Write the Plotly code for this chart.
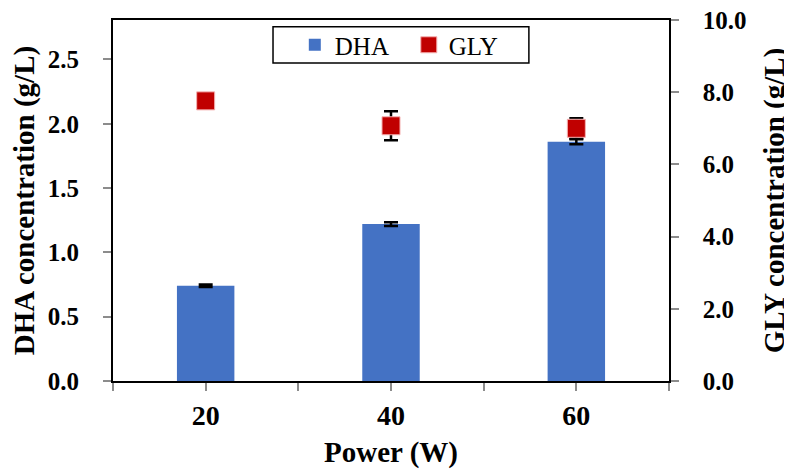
import plotly.graph_objects as go

power = ["20", "40", "60"]
dha = [0.74, 1.22, 1.86]
dha_err = [0.01, 0.015, 0.02]
gly = [7.76, 7.07, 7.0]
gly_err = [0.0, 0.4, 0.28]
xpos = [0, 1, 2]
x_tickvals = [-0.5, 0, 0.5, 1, 1.5, 2, 2.5]
x_ticktext = ["", "20", "", "40", "", "60", ""]
y1_ticks = [0.0, 0.5, 1.0, 1.5, 2.0, 2.5]
y2_ticks = [0.0, 2.0, 4.0, 6.0, 8.0, 10.0]

FONT = "Liberation Serif, Times New Roman, serif"
PAD = "\u00a0\u00a0\u00a0"

fig = go.Figure()
fig.add_trace(go.Bar(
    x=xpos, y=dha, name="DHA", width=0.31,
    marker=dict(color="#4472C4", line=dict(width=0)),
    error_y=dict(type="data", array=dha_err, color="black", thickness=2.5, width=7),
    yaxis="y",
))
fig.add_trace(go.Scatter(
    x=xpos, y=gly, name="GLY", mode="markers",
    marker=dict(symbol="square", size=18, color="#C00000",
                line=dict(color="#F4B0B0", width=1)),
    error_y=dict(type="data", array=gly_err, color="black", thickness=2.5, width=7),
    yaxis="y2",
))

ytickfont = dict(family=FONT, size=25, color="black", weight="bold")
xtickfont = dict(family=FONT, size=28, color="black", weight="bold")
titlefont = dict(family=FONT, size=29, color="black", weight="bold")

fig.update_layout(
    width=784, height=462,
    margin=dict(l=105, r=123, t=12, b=89, autoexpand=False),
    plot_bgcolor="white", paper_bgcolor="white",
    showlegend=True,
    legend=dict(
        orientation="h", x=0.327, xanchor="left", y=0.9307, yanchor="middle",
        borderwidth=0, bgcolor="rgba(0,0,0,0)",
        font=dict(family=FONT, size=25, color="black"),
        itemwidth=30, entrywidth=69, entrywidthmode="pixels",
    ),
    shapes=[dict(type="rect", xref="paper", yref="paper",
                 x0=0.2878, x1=0.748, y0=0.881, y1=0.981,
                 line=dict(color="black", width=1.5), fillcolor="rgba(0,0,0,0)",
                 layer="above")],
    xaxis=dict(
        range=[-0.5, 2.5], tickmode="array", tickvals=x_tickvals, ticktext=x_ticktext,
        ticks="outside", ticklen=8, tickwidth=1.5, tickcolor="#8c8c8c",
        showline=True, linecolor="black", linewidth=2, mirror=True,
        showgrid=False, zeroline=False, tickfont=xtickfont, automargin=False,
        title=dict(text="Power (W)", font=titlefont, standoff=12),
    ),
    yaxis=dict(
        range=[0, 2.807], tickmode="array", tickvals=y1_ticks,
        ticktext=[f"{v:.1f}" for v in y1_ticks],
        ticks="outside", ticklen=8, tickwidth=1.5, tickcolor="#8c8c8c",
        showline=True, linecolor="black", linewidth=2,
        showgrid=False, zeroline=False, tickfont=ytickfont, automargin=False,
        ticklabelstandoff=19,
        title=dict(text="DHA concentration (g/L)", font=titlefont, standoff=6),
    ),
    yaxis2=dict(
        range=[0, 10.0001], overlaying="y", side="right", tickmode="array",
        tickvals=y2_ticks, ticktext=[PAD + f"{v:.1f}" for v in y2_ticks],
        ticks="outside", ticklen=8, tickwidth=1.5, tickcolor="#8c8c8c",
        showline=True, linecolor="black", linewidth=2,
        showgrid=False, zeroline=False, tickfont=ytickfont, automargin=False,
        ticklabeloverflow="allow",
        title=dict(text="GLY concentration (g/L)", font=titlefont, standoff=18),
    ),
)

fig.write_html("out.html")
